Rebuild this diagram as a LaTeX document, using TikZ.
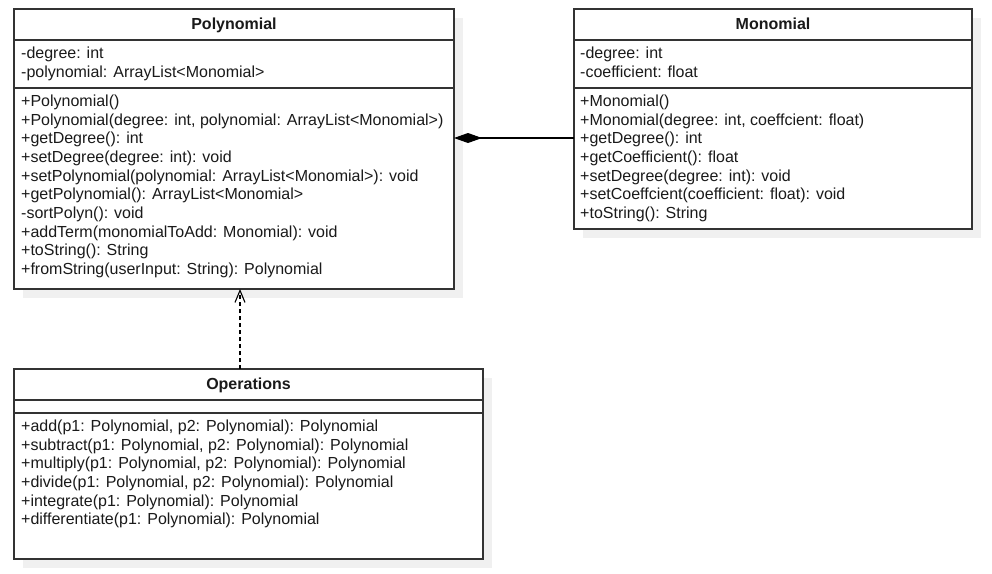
\documentclass[tikz,border=0pt]{standalone}
\usepackage{fontspec}
\setmainfont{Liberation Sans}
\usetikzlibrary{arrows.meta}
\definecolor{ink}{HTML}{1A1A1A}
\definecolor{edge}{HTML}{333333}
\definecolor{shade}{HTML}{F0F0F0}
\tikzset{
  classbox/.style={draw=edge, line width=1.1pt, fill=white, anchor=north west, inner sep=0pt, outer sep=0pt},
  shadowbox/.style={fill=shade, draw=none, anchor=north west, inner sep=0pt, outer sep=0pt},
  sepline/.style={draw=edge, line width=1.1pt},
  rowtext/.style={anchor=base west, inner sep=0pt, text=ink, font=\fontsize{16}{19}\selectfont},
  titletext/.style={anchor=base, inner sep=0pt, text=ink, font=\fontsize{16}{19}\selectfont\bfseries},
  comp/.style={draw=black, line width=1.1pt, -{Diamond[length=28pt,width=10pt,fill=black]}},
  dep/.style={draw=black, line width=1.1pt, dash pattern=on 4pt off 3pt, -{Straight Barb[length=12pt,width=10pt,line width=1.1pt]}}
}
\begin{document}
\begin{tikzpicture}[x=1pt,y=-1pt]
\useasboundingbox[fill=white] (0,0) rectangle (992,573);
% shadows
\node[shadowbox, minimum width=440pt, minimum height=280pt] (polysh) at (23,18) {};
\node[shadowbox, minimum width=398pt, minimum height=220pt] (monosh) at (583,18) {};
\node[shadowbox, minimum width=469pt, minimum height=190pt] (opssh) at (23,378) {};
% boxes
\node[classbox, minimum width=440pt, minimum height=280pt] (poly) at (14,9) {};
\node[classbox, minimum width=398pt, minimum height=220pt] (mono) at (574,9) {};
\node[classbox, minimum width=469pt, minimum height=190pt] (ops) at (14,369) {};
% separators
\draw[sepline] (14,40) -- (454,40);
\draw[sepline] (14,88) -- (454,88);
\draw[sepline] (574,40) -- (972,40);
\draw[sepline] (574,88) -- (972,88);
\draw[sepline] (14,400) -- (483,400);
\draw[sepline] (14,413) -- (483,413);
% titles
\node[titletext] (polyt) at (234,29.5) {Polynomial};
\node[titletext] (monot) at (773,29.5) {Monomial};
\node[titletext] (opst) at (248.5,389.5) {Operations};
% Polynomial attributes
\foreach \t [count=\i from 0] in {{-degree: int},{-polynomial: ArrayList<Monomial>}}
  \node[rowtext] (pa\i) at (21,58.8+18.67*\i) {\t};
\foreach \t [count=\i from 0] in {{+Polynomial()},{+Polynomial(degree: int, polynomial: ArrayList<Monomial>)},{+getDegree(): int},{+setDegree(degree: int): void},{+setPolynomial(polynomial: ArrayList<Monomial>): void},{+getPolynomial(): ArrayList<Monomial>},{-sortPolyn(): void},{+addTerm(monomialToAdd: Monomial): void},{+toString(): String},{+fromString(userInput: String): Polynomial}}
  \node[rowtext] (pm\i) at (21,106.5+18.67*\i) {\t};
% Monomial
\foreach \t [count=\i from 0] in {{-degree: int},{-coefficient: float}}
  \node[rowtext] (ma\i) at (580,58.8+18.67*\i) {\t};
\foreach \t [count=\i from 0] in {{+Monomial()},{+Monomial(degree: int, coeffcient: float)},{+getDegree(): int},{+getCoefficient(): float},{+setDegree(degree: int): void},{+setCoeffcient(coefficient: float): void},{+toString(): String}}
  \node[rowtext] (mm\i) at (580,106.5+18.67*\i) {\t};
% Operations
\foreach \t [count=\i from 0] in {{+add(p1: Polynomial, p2: Polynomial): Polynomial},{+subtract(p1: Polynomial, p2: Polynomial): Polynomial},{+multiply(p1: Polynomial, p2: Polynomial): Polynomial},{+divide(p1: Polynomial, p2: Polynomial): Polynomial},{+integrate(p1: Polynomial): Polynomial},{+differentiate(p1: Polynomial): Polynomial}}
  \node[rowtext] (om\i) at (21,431.5+18.67*\i) {\t};
% connectors
\coordinate (ylev) at (0,138);
\coordinate (xdep) at (240,0);
\draw[comp] (mono.west |- ylev) -- (poly.east |- ylev);
\draw[dep] (ops.north -| xdep) -- (poly.south -| xdep);
\end{tikzpicture}
\end{document}
